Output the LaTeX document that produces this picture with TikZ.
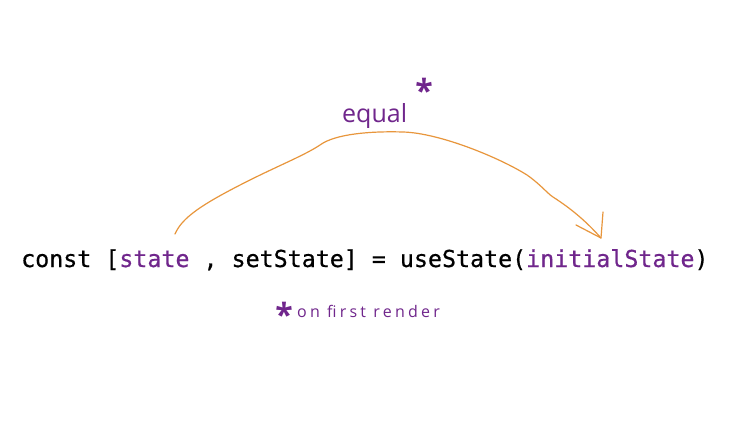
\documentclass[tikz,border=0pt]{standalone}
\usepackage{fontspec}
\setmonofont[FakeBold=0.6]{DejaVu Sans Mono}
\newfontfamily\handfont{Open Sans}
\newfontfamily\handfontwide[LetterSpace=20]{Open Sans}
\definecolor{codepurple}{RGB}{112,38,140}
\definecolor{arcorange}{RGB}{232,150,60}
\tikzset{
  codetext/.style={inner sep=0pt, anchor=base west, font=\ttfamily\fontsize{23.3}{26}\selectfont, text=black},
  handtext/.style={inner sep=0pt, text=codepurple},
  starmark/.style={inner sep=0pt, anchor=center, text=codepurple, font=\handfont\bfseries\fontsize{32}{32}\selectfont},
  arcline/.style={draw=arcorange, line width=1.2pt, line cap=round, line join=round}
}
\begin{document}
\begin{tikzpicture}[x=1pt,y=-1pt]
\useasboundingbox[fill=white] (0,0) rectangle (730,438);
\node[codetext] (code) at (21,267) {const [\textcolor{codepurple}{state} , setState] = useState(\textcolor{codepurple}{initialState})};
\node[handtext, anchor=base west, font=\handfont\fontsize{25}{27}\selectfont] (equal) at (342,123) {equal};
\node[starmark] (star1) at (424,90) {*};
\node[starmark] (star2) at (284,314) {*};
\node[handtext, anchor=base west, font=\handfontwide\fontsize{16}{18}\selectfont] (note) at (297,317) {on first render};
\coordinate (s) at (175,234);
\coordinate (e) at (601,238);
\coordinate (h1) at (576,225);
\coordinate (h2) at (603,212);
\draw[arcline] (s) .. controls (182,218) and (200,205) .. (250,180)
  .. controls (280,165) and (305,155) .. (320,145)
  .. controls (335,134) and (370,131) .. (403,132)
  .. controls (440,133) and (500,158) .. (527,175)
  .. controls (540,184) and (548,194) .. (553,197)
  .. controls (570,208) and (585,220) .. (e);
\draw[arcline] (h1) -- (e) -- (h2);
\end{tikzpicture}
\end{document}
